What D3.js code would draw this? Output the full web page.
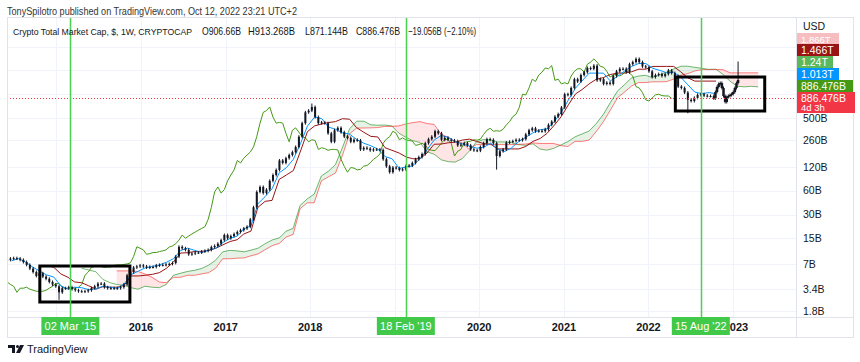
<!DOCTYPE html>
<html>
<head>
<meta charset="utf-8">
<script src="https://cdn.jsdelivr.net/npm/d3@7"></script>
<style>
  body { margin: 0; background: #fff; }
  text { font-family: "Liberation Sans", Arial, sans-serif; }
</style>
</head>
<body>
<script>
// ---- data (values in billions of USD) ----
// biweekly candles, first one on 2 Jun 2014
var candleStart = "2014-06-02";
var closes = [8.0,8.3,8.4,8.3,8.0,7.5,6.9,6.2,5.6,5.0,5.4,4.9,4.6,4.2,3.9,3.7,
  3.1,3.5,3.5,3.6,3.4,3.3,3.2,3.2,3.2,3.3,3.5,3.7,4.0,4.0,3.6,3.5,3.5,3.5,3.5,3.6,3.9,5.1,5.6,6.4,6.6,
  6.8,6.6,6.4,6.5,6.5,6.8,6.9,6.9,7.0,7.1,7.3,8.8,11.7,11.2,10.7,9.4,9.6,9.9,9.9,10.2,10.4,10.7,11.6,12.0,12.8,14.2,16.5,
  15,16,17,18,19,20,21,26,37,58,67,56,62,80,95,110,145,135,155,170,185,215,290,430,590,620,
  690,514,430,440,430,320,250,350,375,330,290,280,250,265,260,200,210,205,195,200,200,197,150,122,103,118,
  116,110,112,123,125,135,150,160,175,240,270,290,340,320,265,280,265,260,255,225,230,240,225,200,195,193,
  215,240,270,265,240,165,190,200,245,250,255,265,262,270,310,350,370,340,345,340,360,410,450,520,560,680,
  1000,980,1200,1550,1450,1750,1900,2150,2100,2300,1500,1550,1350,1400,1350,1700,1950,2100,2100,1900,2400,2550,2800,2550,2250,2200,
  1950,1650,1750,1800,1700,1800,2000,1850,1700,1250,1200,1050,850,820,900,980,1000,960,950,950,886.476];
// long wicks
var spikeDates = ["2015-01-12", "2018-01-08", "2020-03-16", "2022-06-20"];
var spikeValues = [2.6, 730, 116, 600];

// projected bars (weekly) drawn after the last candle
var projStart = "2022-10-17";
var projection = [1067,1235,1348,1387,1199,949,797,922,949,978,1007,1067,1199,1387,1514];
var projSpikeHigh = 2485;

// Ichimoku lines, one value per month (placed on the 20th)
var tenkanStart = "2014-06-20";
var tenkan = [7.75,8.3,7.5,6.5,5.75,5.15,4.85,3.75,3.4,3.6,3.55,3.35,3.45,3.7,3.6,3.5,3.95,5.2,5.75,6.35,6.6,6.9,7.45,8.25,10.5,11.25,10.55,9.9,10.65,11.25,13.25,15,16,19.75,
  21.5,41,50.5,63.5,101,117.5,150,237.5,
  395,515,490,385,360,325,312.5,267.5,240,222.5,202.5,162.5,152.5,115,120,124,152.5,197.5,262.5,300,285,250,235,220,207.5,212.5,240,203,188,210,252.5,285,325,355,365,450,590,
  845,1200,1475,1850,1850,1850,1475,1675,1975,2250,2450,2450,2125,2000,1875,1900,1650,1315,1065,1015,1050,1013];
var kijunStart = "2014-10-20";
var kijun = [6.75,6.75,6.45,5.3,4.8,4.2,4.1,3.75,3.4,3.65,3.6,3.6,3.8,5.0,5.0,5.1,5.25,5.5,6.25,7.5,9.75,9.85,10.2,10.25,10.5,11.25,12.4,13.65,14.4,17,
  18.5,37,44,45.25,83.5,95,108,191,
  336,397.5,420,437.5,450,490,482.5,377.5,330,292.5,287.5,210,195,180,160,152.5,152.5,180,232.5,234,242.5,247.5,262.5,270,252.5,237.5,232.5,203,203,203,203,218,253,275,320,405,520,
  735,1010,1145,1355,1545,1625,1775,1850,1850,1925,2075,2075,2250,2250,2250,2250,1925,1615,1466,1466,1466,1466];
// leading spans: month they were computed in, drawn 26 weeks later
var senkouAStart = "2014-10-20";
var senkouA = [6.25,5.95,5.65,4.5,4.1,3.9,3.8,3.55,3.4,3.7,3.6,3.55,3.9,5.1,5.4,5.7,5.9,6.2,6.85,7.9,10.1,10.55,10.4,10.1,10.6,11.25,12.8,14.3,15.2,18.4,
  20,39,47.25,54.4,92.25,106.25,129,214.25,
  365.5,456,455,411,405,407.5,397.5,322.5,285,257.5,245,186,174,147.5,140,138,152.5,189,247.5,267,264,249,249,245,230,225,236,203,195.5,206.5,228,251.5,289,315,342.5,427.5,555,
  790,1105,1310,1602.5,1697.5,1737.5,1625,1762.5,1912.5,2087.5,2262.5,2262.5,2187.5,2125,2062.5,2075,1787.5,1465,1265,1240,1257.5,1240];
var senkouBStart = "2015-03-20";
var senkouB = [5.8,5.8,5.8,5.7,5.3,4.8,4.2,4.1,4.8,4.8,5.1,5.1,5.3,5.5,6.25,8.25,8.25,8.4,8.45,9.0,9.5,10.75,12.1,12.95,15.5,
  16.75,35.5,42.15,42.15,79.9,90,100.5,171,
  316.5,373,373.5,375,378,391,391,397.5,420,437.5,450,425,415,310,285,250,245,200,230,230,230,230,230,230,232.5,234,242.5,238,238,238,223,218,253,253,263,338,448,633,908,1055,1265,
  1402.5,1405,1435,1435,1445,1555,1745,1825,1975,2050,2050,2050,2050,1865,1865,1865,1865,1865];

var priceTicks = [1.8, 3.4, 7, 15, 30, 60, 120, 260, 500];
var hiddenTicks = [1000, 2000, 4000];
var years = [2015, 2016, 2017, 2018, 2019, 2020, 2021, 2022, 2023];
var yearLabels = [2016, 2017, 2018, 2020, 2021, 2022, 2023]; // 2015 and 2019 sit under the marker labels
var markerDates = ["2015-03-02", "2019-02-18", "2022-08-15"];
var markerLabels = ["02 Mar '15", "18 Feb '19", "15 Aug '22"];
// drawn rectangles: [from, to, low, high]
var boxes = [["2014-10-21", "2015-11-14", 2.34, 6.68], ["2022-04-27", "2023-05-18", 613, 1652]];
// last values shown on the price scale (spanB, kijun, spanA, tenkan, lagging, close)
var lastValues = [1866, 1466, 1240, 1013, 886.476, 886.476];
var lastClose = 886.476;
var countdown = "4d 3h";

// ---- setup ----
var parse = d3.utcParse("%Y-%m-%d");
var W = 860, H = 362;
var L = 7, R = 796, T = 17, B = 317;
var svg = d3.select("body").append("svg").attr("width", W).attr("height", H);

var x = d3.scaleUtc().domain([Date.UTC(2016, 0, 1), Date.UTC(2023, 0, 1)]).range([141, 733]);
var y = d3.scaleLog().domain([1.8, 500]).range([311, 118]);

svg.append("defs").append("clipPath").attr("id", "plot")
  .append("rect").attr("x", L).attr("y", T).attr("width", R - L).attr("height", B - T);

// grid
var grid = svg.append("g");
grid.selectAll("line.h").data(priceTicks.concat(hiddenTicks)).enter().append("line")
  .attr("x1", L).attr("x2", R).attr("y1", function(d) { return Math.round(y(d)) + 0.5; })
  .attr("y2", function(d) { return Math.round(y(d)) + 0.5; })
  .attr("stroke", "#f0f3fa");
grid.selectAll("line.v").data(years).enter().append("line")
  .attr("x1", function(d) { return Math.round(x(Date.UTC(d, 0, 1))) + 0.5; })
  .attr("x2", function(d) { return Math.round(x(Date.UTC(d, 0, 1))) + 0.5; })
  .attr("y1", T).attr("y2", B).attr("stroke", "#f0f3fa");

var plot = svg.append("g").attr("clip-path", "url(#plot)");

function monthly(start, vals, shiftDays) {
  var t = parse(start);
  return vals.map(function(v, i) {
    return { date: d3.utcDay.offset(d3.utcMonth.offset(t, i), shiftDays || 0), v: v };
  });
}
var line = d3.line().x(function(d) { return x(d.date); }).y(function(d) { return y(d.v); });

// cloud
var aOffset = d3.utcMonth.count(parse(senkouAStart), parse(senkouBStart));
var cloud = senkouB.map(function(b, k) {
  return { date: d3.utcDay.offset(d3.utcMonth.offset(parse(senkouBStart), k), 182), a: senkouA[k + aOffset], b: b };
});
plot.append("path").datum(cloud)
  .attr("d", d3.area().x(function(d) { return x(d.date); })
    .y0(function(d) { return y(d.b); }).y1(function(d) { return y(Math.max(d.a, d.b)); }))
  .attr("fill", "rgba(0,128,0,0.1)");
plot.append("path").datum(cloud)
  .attr("d", d3.area().x(function(d) { return x(d.date); })
    .y0(function(d) { return y(d.a); }).y1(function(d) { return y(Math.max(d.a, d.b)); }))
  .attr("fill", "rgba(255,0,0,0.1)");

plot.append("path").datum(monthly(senkouAStart, senkouA, 182)).attr("d", line)
  .attr("fill", "none").attr("stroke", "rgba(0,128,0,0.55)").attr("stroke-width", 1);
plot.append("path").datum(monthly(senkouBStart, senkouB, 182)).attr("d", line)
  .attr("fill", "none").attr("stroke", "rgba(255,0,0,0.5)").attr("stroke-width", 1);

// candles
var t0 = parse(candleStart);
var candles = closes.map(function(c, i) {
  var d = d3.utcDay.offset(t0, 14 * i);
  var o = i ? closes[i - 1] : c;
  var hi = Math.max(o, c), lo = Math.min(o, c);
  var s = spikeDates.indexOf(d3.utcFormat("%Y-%m-%d")(d));
  if (s >= 0) { hi = Math.max(hi, spikeValues[s]); lo = Math.min(lo, spikeValues[s]); }
  return { date: d, open: o, close: c, hi: hi, lo: lo };
});

// lagging span
plot.append("path").datum(candles.map(function(c) { return { date: d3.utcDay.offset(c.date, -182), v: c.close }; }))
  .attr("d", line).attr("fill", "none").attr("stroke", "#459915").attr("stroke-width", 1);
plot.append("path").datum(monthly(kijunStart, kijun)).attr("d", line)
  .attr("fill", "none").attr("stroke", "#991515").attr("stroke-width", 1);
plot.append("path").datum(monthly(tenkanStart, tenkan)).attr("d", line)
  .attr("fill", "none").attr("stroke", "#0496ff").attr("stroke-width", 1);

function drawCandles(g, data, bw) {
  g.selectAll("line.w").data(data).enter().append("line")
    .attr("x1", function(d) { return x(d.date); }).attr("x2", function(d) { return x(d.date); })
    .attr("y1", function(d) { return y(d.hi) - 1.5; }).attr("y2", function(d) { return y(d.lo) + 1.5; })
    .attr("stroke", "#131722").attr("stroke-width", 1);
  g.selectAll("rect.b").data(data).enter().append("rect")
    .attr("x", function(d) { return x(d.date) - bw / 2; }).attr("width", bw)
    .attr("y", function(d) { return y(Math.max(d.open, d.close)); })
    .attr("height", function(d) { return Math.max(1, y(Math.min(d.open, d.close)) - y(Math.max(d.open, d.close))); })
    .attr("fill", "#131722");
}
drawCandles(plot.append("g"), candles, 2);

var p0 = parse(projStart);
var proj = projection.map(function(c, i) {
  var o = i ? projection[i - 1] : lastClose;
  var hi = Math.max(o, c), lo = Math.min(o, c);
  if (i === projection.length - 1) hi = projSpikeHigh;
  return { date: d3.utcDay.offset(p0, 7 * i), open: o, close: c, hi: hi, lo: lo };
});
drawCandles(plot.append("g"), proj, 2.5);

// last price line
plot.append("line").attr("x1", L).attr("x2", R)
  .attr("y1", Math.round(y(lastClose)) + 0.5).attr("y2", Math.round(y(lastClose)) + 0.5)
  .attr("stroke", "#f23645").attr("stroke-dasharray", "1,2");

// drawn boxes
plot.selectAll("rect.box").data(boxes).enter().append("rect")
  .attr("x", function(d) { return x(parse(d[0])); })
  .attr("width", function(d) { return x(parse(d[1])) - x(parse(d[0])); })
  .attr("y", function(d) { return y(d[3]); })
  .attr("height", function(d) { return y(d[2]) - y(d[3]); })
  .attr("fill", "none").attr("stroke", "#000").attr("stroke-width", 3);

// vertical markers
svg.selectAll("line.mk").data(markerDates).enter().append("line")
  .attr("x1", function(d) { return Math.round(x(parse(d))) + 0.5; })
  .attr("x2", function(d) { return Math.round(x(parse(d))) + 0.5; })
  .attr("y1", T).attr("y2", B).attr("stroke", "#4cd04f").attr("stroke-width", 1.5);

// frame
svg.append("rect").attr("x", L + 0.5).attr("y", T + 0.5).attr("width", 853 - L).attr("height", 337 - T)
  .attr("fill", "none").attr("stroke", "#e0e3eb");
svg.append("line").attr("x1", L).attr("x2", 853).attr("y1", B + 0.5).attr("y2", B + 0.5).attr("stroke", "#e0e3eb");
svg.append("line").attr("x1", R + 0.5).attr("x2", R + 0.5).attr("y1", T).attr("y2", 337).attr("stroke", "#e0e3eb");

// time axis
svg.selectAll("text.yr").data(yearLabels).enter().append("text")
  .attr("x", function(d) { return x(Date.UTC(d, 0, 1)) + (d === 2023 ? 3 : 0); }).attr("y", 331)
  .attr("text-anchor", "middle").attr("font-size", 11).attr("font-weight", "bold")
  .attr("fill", "#131722").text(function(d) { return d; });

var mk = svg.selectAll("g.mkl").data(markerDates).enter().append("g")
  .attr("transform", function(d) { return "translate(" + x(parse(d)) + ",0)"; });
mk.append("rect").attr("x", -29).attr("y", B).attr("width", 58).attr("height", 18).attr("fill", "#43c94a");
mk.append("text").attr("y", 330).attr("text-anchor", "middle").attr("font-size", 11)
  .attr("fill", "#fff").text(function(d, i) { return markerLabels[i]; });

// price axis
svg.selectAll("text.pt").data(priceTicks).enter().append("text")
  .attr("x", 803).attr("y", function(d) { return y(d); }).attr("dy", "0.35em")
  .attr("font-size", 10.5).attr("fill", "#131722")
  .text(function(d) { return d + "B"; });
svg.append("text").attr("x", 803).attr("y", 30).attr("font-size", 10.5).attr("fill", "#131722").text("USD");

var labelColors = ["#f5a3a8", "#991515", "#5cb85c", "#0496ff", "#459915", "#f23645"];
var labelWidths = [42, 42, 36, 42, 56, 58];
var labelTop = [33, 44, 56, 68, 80, 92];
var labelHeight = [11, 12, 12, 12, 12, 21];
function fmt(v) { return v >= 1000 ? (+(v / 1000).toFixed(3)) + "T" : v + "B"; }
var lab = svg.selectAll("g.lab").data(lastValues).enter().append("g")
  .attr("transform", function(d, i) { return "translate(797," + labelTop[i] + ")"; })
  .attr("opacity", function(d, i) { return i === 0 ? 0.7 : 1; });
lab.append("rect").attr("width", function(d, i) { return labelWidths[i]; })
  .attr("height", function(d, i) { return labelHeight[i]; })
  .attr("fill", function(d, i) { return labelColors[i]; });
lab.append("text").attr("x", 4).attr("y", function(d, i) { return i === 0 ? 9.5 : 10; })
  .attr("font-size", function(d, i) { return i === 0 ? 9.5 : 10.5; })
  .attr("fill", "#fff").text(fmt);
svg.append("text").attr("x", 801).attr("y", 110.5).attr("font-size", 9.5).attr("fill", "#fff").text(countdown);

// header & legend
svg.append("text").attr("x", 7).attr("y", 15).attr("font-size", 10.5).attr("fill", "#333")
  .attr("textLength", 290).attr("lengthAdjust", "spacingAndGlyphs")
  .text("TonySpilotro published on TradingView.com, Oct 12, 2022 23:21 UTC+2");
var legendX = [13, 202, 248, 305, 356, 408];
var legendW = [179, 39, 47, 43, 44, 68];
var legendText = ["Crypto Total Market Cap, $, 1W, CRYPTOCAP", "O906.66B", "H913.268B", "L871.144B", "C886.476B", "\u221219.056B (\u22122.10%)"];
svg.selectAll("text.lg").data(legendText).enter().append("text")
  .attr("x", function(d, i) { return legendX[i]; }).attr("y", 35)
  .attr("textLength", function(d, i) { return legendW[i]; }).attr("lengthAdjust", "spacingAndGlyphs")
  .attr("font-size", function(d, i) { return i === 0 ? 9.5 : 10.5; })
  .attr("fill", "#131722").text(function(d) { return d; });

// footer
var logo = svg.append("g").attr("transform", "translate(8,345)");
logo.append("path").attr("d", "M0,0 H7 V8 H4 V3 H0 Z").attr("fill", "#131722");
logo.append("circle").attr("cx", 9.5).attr("cy", 1.5).attr("r", 1.5).attr("fill", "#131722");
logo.append("path").attr("d", "M12,0 H16 L12,8 H8 Z").attr("fill", "#131722");
svg.append("text").attr("x", 27).attr("y", 353).attr("font-size", 11).attr("fill", "#131722").text("TradingView");
</script>
</body>
</html>
